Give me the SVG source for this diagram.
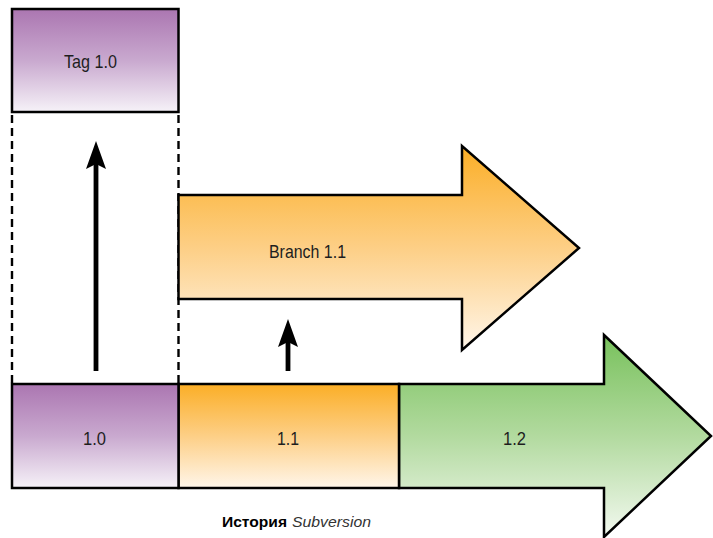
<svg xmlns="http://www.w3.org/2000/svg" width="713" height="538" viewBox="0 0 713 538">
  <defs>
    <linearGradient id="gPurple" x1="0" y1="0" x2="0" y2="1">
      <stop offset="0" stop-color="#ab76b1"/>
      <stop offset="0.5" stop-color="#c9a9cf"/>
      <stop offset="1" stop-color="#f6f2f8"/>
    </linearGradient>
    <linearGradient id="gOrange" x1="0" y1="0" x2="0" y2="1">
      <stop offset="0" stop-color="#fbae26"/>
      <stop offset="0.5" stop-color="#fdcf86"/>
      <stop offset="1" stop-color="#fff6ea"/>
    </linearGradient>
    <linearGradient id="gGreen" x1="0" y1="0" x2="0" y2="1">
      <stop offset="0" stop-color="#78c15c"/>
      <stop offset="0.5" stop-color="#b2da9f"/>
      <stop offset="1" stop-color="#f3f9f0"/>
    </linearGradient>
    <marker id="head" viewBox="0 0 28 20" refX="5" refY="10" markerWidth="28" markerHeight="20" markerUnits="userSpaceOnUse" orient="auto">
      <path d="M0,0 L28,10 L0,20 L5,10 Z" fill="#000"/>
    </marker>
  </defs>
  <style>
    .box { stroke: #000; stroke-width: 2.5; stroke-linejoin: miter; }
    .lbl { font-family: "Liberation Sans", Arial, sans-serif; font-size: 19px; fill: #1e1e1e; }
    .dash { stroke: #000; stroke-width: 2.4; stroke-dasharray: 8 5; fill: none; }
    .arr { stroke: #000; stroke-width: 4.8; fill: none; marker-end: url(#head); }
    .cap { font-family: "Liberation Sans", Arial, sans-serif; font-size: 15px; fill: #000; }
  </style>
  <rect width="713" height="538" fill="#fff"/>

  <g id="guides">
    <line class="dash" x1="12" y1="115" x2="12" y2="384"/>
    <line class="dash" x1="178.5" y1="115" x2="178.5" y2="384"/>
  </g>

  <g id="tag">
    <rect class="box" x="12" y="9" width="166.5" height="103" fill="url(#gPurple)"/>
    <text class="lbl" x="64" y="68" textLength="53" lengthAdjust="spacingAndGlyphs">Tag 1.0</text>
  </g>

  <g id="branch">
    <path class="box" d="M178.5,195 L462,195 L462,146 L579,248 L462,350 L462,299 L178.5,299 Z" fill="url(#gOrange)"/>
    <text class="lbl" x="269" y="258" textLength="77" lengthAdjust="spacingAndGlyphs">Branch 1.1</text>
  </g>

  <g id="v12">
    <path class="box" d="M399,384 L604,384 L604,335 L711,436 L604,537 L604,488 L399,488 Z" fill="url(#gGreen)"/>
    <text class="lbl" x="503" y="445" textLength="23" lengthAdjust="spacingAndGlyphs">1.2</text>
  </g>

  <g id="v11">
    <rect class="box" x="178.5" y="384" width="220.5" height="104" fill="url(#gOrange)"/>
    <text class="lbl" x="277" y="445" textLength="22" lengthAdjust="spacingAndGlyphs">1.1</text>
  </g>

  <g id="v10">
    <rect class="box" x="12" y="384" width="166.5" height="104" fill="url(#gPurple)"/>
    <text class="lbl" x="83" y="445" textLength="23" lengthAdjust="spacingAndGlyphs">1.0</text>
  </g>

  <g id="connectors">
    <path class="arr" d="M96,371 L96,164"/>
    <path class="arr" d="M288,371 L288,342"/>
  </g>

  <g id="caption">
    <text class="cap" x="222" y="527"><tspan font-weight="900" textLength="65" lengthAdjust="spacingAndGlyphs">История</tspan><tspan x="292" font-style="italic" fill="#333" textLength="79" lengthAdjust="spacingAndGlyphs">Subversion</tspan></text>
  </g>
</svg>
